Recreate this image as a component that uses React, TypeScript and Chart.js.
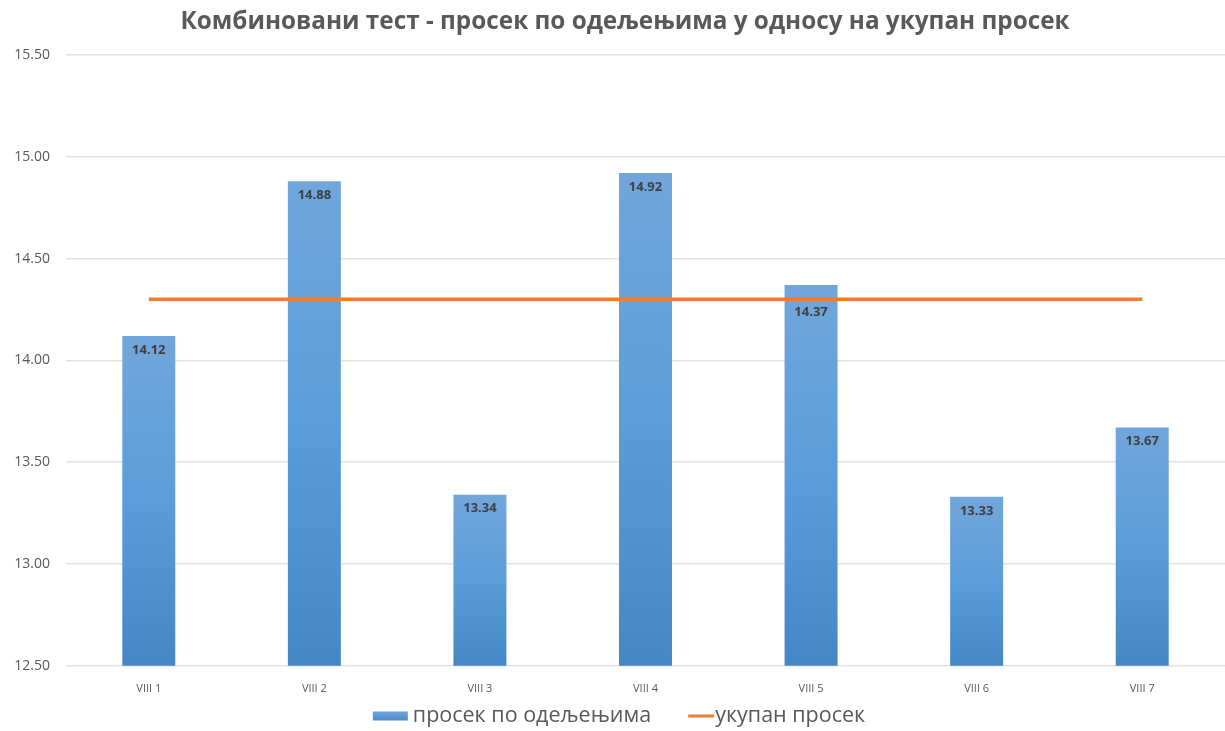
import React, { useEffect, useRef } from "react";
import { Chart, registerables } from "chart.js";

Chart.register(...registerables);

const titleText = "Комбиновани тест - просек по одељењима у односу на укупан просек";
const categories = ["VIII 1", "VIII 2", "VIII 3", "VIII 4", "VIII 5", "VIII 6", "VIII 7"];
const classAverages = [14.12, 14.88, 13.34, 14.92, 14.37, 13.33, 13.67];
const overallAverage = [14.3, 14.3, 14.3, 14.3, 14.3, 14.3, 14.3];
const barLabel = "просек по одељењима";
const lineLabel = "укупан просек";
const yMin = 12.5;
const yMax = 15.5;
const yStep = 0.5;

const FONT = "'Open Sans', 'DejaVu Sans', sans-serif";
const BLUE = "#5b9bd5";
const ORANGE = "#ed7d31";
const TEXT = "#595959";

const titlePlugin = {
  id: "customTitle",
  afterDraw(chart: any) {
    const ctx = chart.ctx;
    ctx.save();
    ctx.font = `bold 24.3px ${FONT}`;
    ctx.fillStyle = TEXT;
    ctx.textAlign = "center";
    ctx.textBaseline = "middle";
    ctx.fillText(titleText, 625, 22);
    ctx.restore();
  },
};

const dataLabelPlugin = {
  id: "dataLabels",
  afterDatasetsDraw(chart: any) {
    const ctx = chart.ctx;
    const meta = chart.getDatasetMeta(1);
    const yScale = chart.scales.y;
    ctx.save();
    ctx.font = `bold 13px ${FONT}`;
    ctx.fillStyle = "#404040";
    ctx.textAlign = "center";
    ctx.textBaseline = "middle";
    meta.data.forEach((el: any, i: number) => {
      const v = classAverages[i];
      let ly = el.y + 14;
      const lineY = yScale.getPixelForValue(overallAverage[i]);
      if (Math.abs(ly - lineY) < 10) ly = lineY + 13;
      ctx.fillText(v.toFixed(2), el.x, ly);
    });
    ctx.restore();
  },
};

const legendPlugin = {
  id: "customLegend",
  afterDraw(chart: any) {
    const ctx = chart.ctx;
    ctx.save();
    ctx.font = `21.5px ${FONT}`;
    ctx.textBaseline = "middle";
    ctx.fillStyle = TEXT;
    const y = 716;
    const w1 = ctx.measureText(barLabel).width;
    const w2 = ctx.measureText(lineLabel).width;
    const boxW = 35;
    const gap = 5;
    const spacing = 37;
    const lineW = 26;
    const total = boxW + gap + w1 + spacing + lineW + 1 + w2;
    let x = 619 - total / 2;
    const g = ctx.createLinearGradient(0, y - 5, 0, y + 5);
    g.addColorStop(0, "#6ea6dc");
    g.addColorStop(1, "#4a89c9");
    ctx.fillStyle = g;
    ctx.fillRect(x, y - 4.5, boxW, 9);
    x += boxW + gap;
    ctx.fillStyle = TEXT;
    ctx.textAlign = "left";
    ctx.fillText(barLabel, x, y);
    x += w1 + spacing;
    ctx.strokeStyle = ORANGE;
    ctx.lineWidth = 3;
    ctx.beginPath();
    ctx.moveTo(x, y);
    ctx.lineTo(x + lineW, y);
    ctx.stroke();
    x += lineW + 1;
    ctx.fillText(lineLabel, x, y);
    ctx.restore();
  },
};

function barGradient(context: any) {
  const chart = context.chart;
  const y = chart.scales?.y;
  const area = chart.chartArea;
  if (!y || !area || context.raw == null) return BLUE;
  const top = y.getPixelForValue(context.raw);
  const bottom = area.bottom;
  if (!isFinite(top) || !isFinite(bottom) || bottom - top < 1) return BLUE;
  const g = chart.ctx.createLinearGradient(0, top, 0, bottom);
  g.addColorStop(0, "#71a6db");
  g.addColorStop(0.5, "#5b9dda");
  g.addColorStop(1, "#4587c6");
  return g;
}

export default function App() {
  const ref = useRef<HTMLCanvasElement>(null);
  useEffect(() => {
    if (!ref.current) return;
    const chart = new Chart(ref.current, {
      type: "bar",
      data: {
        labels: categories,
        datasets: [
          {
            type: "line",
            label: lineLabel,
            data: overallAverage,
            borderColor: ORANGE,
            borderWidth: 3.5,
            pointRadius: 0,
            fill: false,
            order: 0,
          } as any,
          {
            type: "bar",
            label: barLabel,
            data: classAverages,
            backgroundColor: barGradient,
            barPercentage: 0.32,
            categoryPercentage: 1,
            order: 1,
          },
        ],
      },
      options: {
        animation: false,
        responsive: false,
        maintainAspectRatio: false,
        layout: { padding: { left: 0, right: 0, top: 55, bottom: 28 } },
        plugins: {
          legend: { display: false },
          tooltip: { enabled: false },
          title: { display: false },
        },
        scales: {
          x: {
            grid: { display: false },
            border: { display: false },
            ticks: { color: TEXT, font: { family: FONT, size: 11 }, padding: 8 },
          },
          y: {
            min: yMin,
            max: yMax,
            afterFit: (s: any) => {
              s.width = 66;
            },
            ticks: {
              stepSize: yStep,
              color: TEXT,
              font: { family: FONT, size: 14 },
              padding: 16,
              callback: (v: any) => Number(v).toFixed(2),
            },
            grid: { color: "#e3e3e3", lineWidth: 1.5, drawTicks: false },
            border: { display: false },
          },
        },
      },
      plugins: [titlePlugin, dataLabelPlugin, legendPlugin],
    });
    return () => chart.destroy();
  }, []);
  return (
    <div style={{ position: "fixed", left: 0, top: 0, width: 1225, height: 731, background: "#fff" }}>
      <canvas ref={ref} width={1225} height={731} style={{ width: 1225, height: 731 }} />
    </div>
  );
}
